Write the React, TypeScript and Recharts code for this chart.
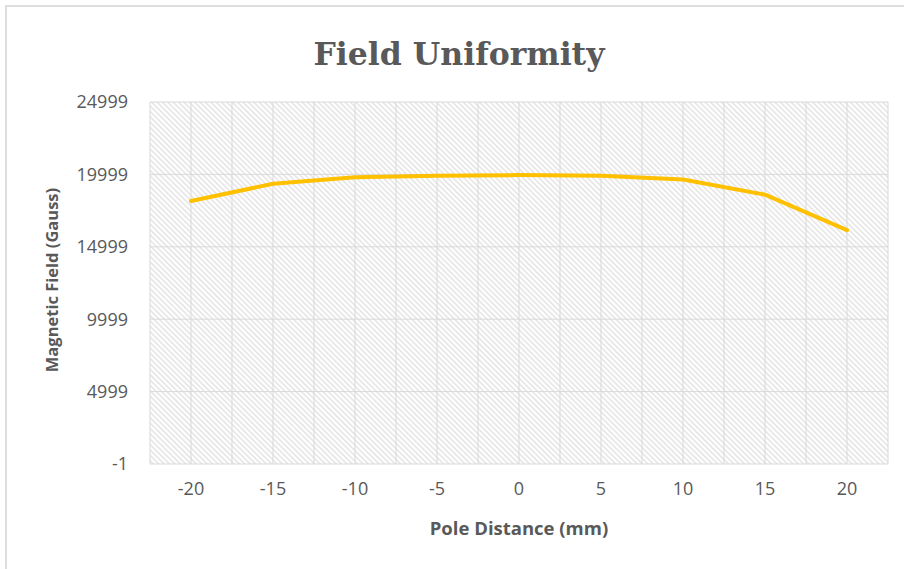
import { LineChart, Line, XAxis, YAxis, CartesianGrid } from "recharts";

const poleDistance = [-20, -15, -10, -5, 0, 5, 10, 15, 20];
const fieldGauss = [18160, 19350, 19800, 19900, 19950, 19900, 19650, 18600, 16150];
const yTicks = [-1, 4999, 9999, 14999, 19999, 24999];

const data = poleDistance.map((x, i) => ({ x, field: fieldGauss[i] }));

const W = 904;
const H = 569;
const PLOT = { left: 150, right: 888, top: 102, bottom: 464 };
const band = (PLOT.right - PLOT.left) / poleDistance.length;

const textColor = "#595959";
const gridColor = "#d9d9d9";
const font = "'Open Sans', 'Noto Sans', sans-serif";

// vertical lines at every half category (major + minor gridlines)
const vLines = ({ offset }: any) => {
  const out: number[] = [];
  const steps = poleDistance.length * 2;
  for (let i = 0; i <= steps; i++) out.push(offset.left + (offset.width * i) / steps);
  return out;
};

export default function App() {
  return (
    <div
      style={{
        position: "absolute",
        left: 0,
        top: 0,
        width: W,
        height: H,
        background: "#fff",
        overflow: "hidden",
        fontFamily: font,
      }}
    >
      {/* chart area border (only top/left visible in the crop) */}
      <div
        style={{
          position: "absolute",
          left: 5,
          top: 5,
          width: W,
          height: H,
          borderLeft: "2px solid #dedede",
          borderTop: "2px solid #dedede",
        }}
      />
      <div
        style={{
          position: "absolute",
          left: 0,
          width: 918,
          top: 36,
          lineHeight: "36px",
          textAlign: "center",
          fontFamily: "'DejaVu Serif', 'Liberation Serif', serif",
          fontWeight: 700,
          fontSize: 31.5,
          color: textColor,
        }}
      >
        Field Uniformity
      </div>
      <div
        style={{
          position: "absolute",
          left: 52 - 150,
          top: 280 - 12,
          width: 300,
          height: 24,
          lineHeight: "24px",
          textAlign: "center",
          transform: "rotate(-90deg)",
          fontWeight: 700,
          fontSize: 16.5,
          color: textColor,
        }}
      >
        Magnetic Field (Gauss)
      </div>
      <div
        style={{
          position: "absolute",
          left: 519 - 150,
          top: 528 - 12,
          width: 300,
          lineHeight: "24px",
          textAlign: "center",
          fontWeight: 700,
          fontSize: 18.5,
          color: textColor,
        }}
      >
        Pole Distance (mm)
      </div>
      <LineChart
        width={W}
        height={H}
        data={data}
        margin={{ left: PLOT.left - 80, right: W - PLOT.right, top: PLOT.top, bottom: H - PLOT.bottom - 40 }}
        style={{ position: "absolute", left: 0, top: 0 }}
      >
        <defs>
          <pattern id="hatch" patternUnits="userSpaceOnUse" width="3.8" height="3.8" patternTransform="rotate(-45)">
            <rect width="3.8" height="3.8" fill="#ffffff" />
            <line x1="0.8" y1="0" x2="0.8" y2="3.8" stroke="#dcdcdc" strokeWidth="1.2" />
          </pattern>
        </defs>
        <CartesianGrid
          fill="url(#hatch)"
          stroke={gridColor}
          strokeWidth={1}
          verticalCoordinatesGenerator={vLines}
        />
        <XAxis
          dataKey="x"
          type="category"
          height={40}
          padding={{ left: band / 2, right: band / 2 }}
          axisLine={false}
          tickLine={false}
          tickSize={0}
          tickMargin={18}
          interval={0}
          tick={{ fill: textColor, fontSize: 18, fontFamily: font }}
        />
        <YAxis
          type="number"
          domain={[-1, 24999]}
          ticks={yTicks}
          interval={0}
          width={80}
          axisLine={false}
          tickLine={false}
          tickSize={0}
          tickMargin={22}
          tick={{ fill: textColor, fontSize: 18, fontFamily: font }}
        />
        <Line
          type="linear"
          dataKey="field"
          stroke="#ffc000"
          strokeWidth={4}
          strokeLinejoin="round"
          strokeLinecap="round"
          dot={false}
          activeDot={false}
          isAnimationActive={false}
        />
      </LineChart>
    </div>
  );
}
